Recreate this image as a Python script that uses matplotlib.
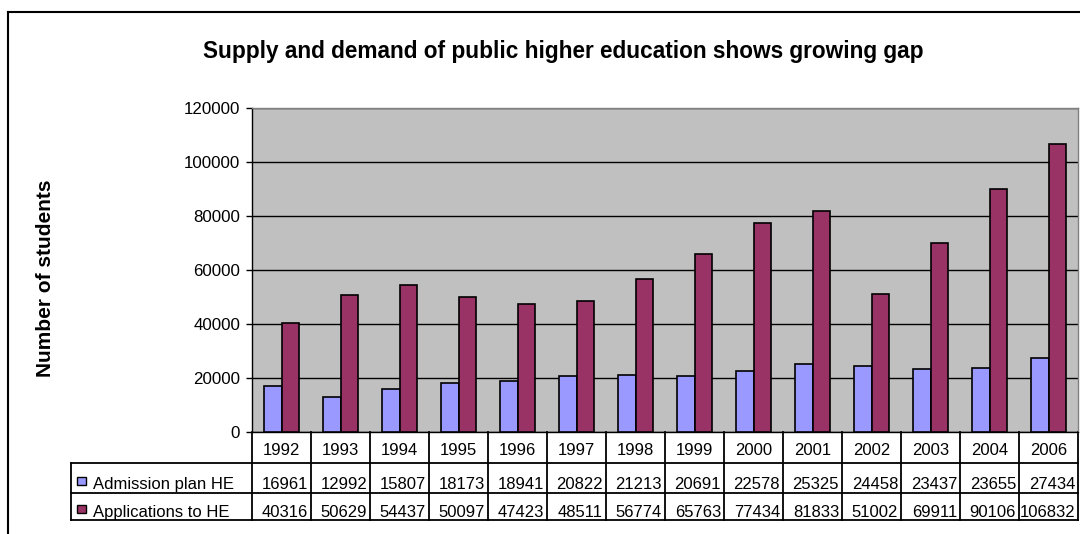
import matplotlib.pyplot as plt
from matplotlib.lines import Line2D
from matplotlib.patches import Rectangle
import numpy as np

plt.rcParams['font.family'] = ['Liberation Sans', 'DejaVu Sans']

# Data
years = ['1992', '1993', '1994', '1995', '1996', '1997', '1998',
         '1999', '2000', '2001', '2002', '2003', '2004', '2006']
admission_plan = [16961, 12992, 15807, 18173, 18941, 20822, 21213,
                  20691, 22578, 25325, 24458, 23437, 23655, 27434]
applications = [40316, 50629, 54437, 50097, 47423, 48511, 56774,
                65763, 77434, 81833, 51002, 69911, 90106, 106832]
series_names = ['Admission plan HE', 'Applications to HE']
series_colors = ['#9999FF', '#993366']

W, H = 1080, 534
fig = plt.figure(figsize=(W / 100, H / 100), dpi=100)

# plot area in pixels
px_left, px_right, px_top, px_bottom = 252, 1078, 108, 432
ax = fig.add_axes([px_left / W, 1 - px_bottom / H,
                   (px_right - px_left) / W, (px_bottom - px_top) / H])
ax.set_facecolor('#C0C0C0')

x = np.arange(len(years))
bw = 0.29
ax.bar(x - bw / 2, admission_plan, bw, color=series_colors[0],
       edgecolor='black', linewidth=1.2, zorder=3)
ax.bar(x + bw / 2, applications, bw, color=series_colors[1],
       edgecolor='black', linewidth=1.2, zorder=3)

ax.set_xlim(-0.5, len(years) - 0.5)
ax.set_ylim(0, 120000)
ax.set_yticks(np.arange(0, 120001, 20000))
ax.yaxis.grid(True, color='black', linewidth=1.0, zorder=1)
ax.set_axisbelow(True)
ax.set_xticks([])
ax.tick_params(axis='y', direction='out', length=4.3, width=1.0,
               pad=4.3, labelsize=12.2, colors='black')
ax.spines['left'].set_color('black')
ax.spines['bottom'].set_color('black')
ax.spines['top'].set_color('#808080')
ax.spines['right'].set_color('#808080')
for s in ax.spines.values():
    s.set_linewidth(1.0)


def ay(py):
    # pixel row -> axes fraction
    return (px_bottom - py) / (px_bottom - px_top)


def axx(px):
    return (px - px_left) / (px_right - px_left)


row_lines = [432, 463, 493, 520]
table_left = 71
tf = ax.get_xaxis_transform()
lkw = dict(color='black', linewidth=1.3, clip_on=False)

# data table grid
for i in range(len(years) + 1):
    ax.add_line(Line2D([i - 0.5, i - 0.5], [ay(432), ay(520)], transform=tf, **lkw))
for py in row_lines[1:]:
    ax.add_line(Line2D([axx(table_left), 1], [ay(py), ay(py)],
                       transform=ax.transAxes, **lkw))
ax.add_line(Line2D([axx(table_left), axx(table_left)], [ay(463), ay(520)],
                   transform=ax.transAxes, **lkw))

# table text
for i, yr in enumerate(years):
    ax.text(i, ay(455), yr, transform=tf, ha='center', va='baseline',
            fontsize=12, clip_on=False)
for i in range(len(years)):
    ax.text(i + 0.45, ay(489), str(admission_plan[i]), transform=tf,
            ha='right', va='baseline', fontsize=12, clip_on=False)
    ax.text(i + 0.45, ay(517), str(applications[i]), transform=tf,
            ha='right', va='baseline', fontsize=12, clip_on=False)

# legend keys in the row headers
for name, col, sq_top, base in zip(series_names, series_colors, [477, 505], [489, 517]):
    ax.add_patch(Rectangle((axx(77), ay(sq_top + 8)), axx(86) - axx(77),
                           ay(sq_top) - ay(sq_top + 8), transform=ax.transAxes,
                           facecolor=col, edgecolor='black', linewidth=1.0,
                           clip_on=False))
    ax.text(axx(93), ay(base), name, transform=ax.transAxes, ha='left',
            va='baseline', fontsize=12, clip_on=False)

fig.text(563 / W, 1 - 58 / H,
         'Supply and demand of public higher education shows growing gap',
         ha='center', va='baseline', fontsize=16.3, fontweight='bold')
fig.text(46 / W, 1 - 278 / H, 'Number of students', rotation=90,
         ha='center', va='center', fontsize=15, fontweight='bold')

# chart frame
fig.add_artist(Line2D([8 / W, 8 / W], [0, 1 - 12 / H], color='black',
                      linewidth=1.5, transform=fig.transFigure))
fig.add_artist(Line2D([8 / W, 1], [1 - 12 / H, 1 - 12 / H], color='black',
                      linewidth=1.5, transform=fig.transFigure))

fig.savefig('out.png', dpi=100, facecolor='white')
